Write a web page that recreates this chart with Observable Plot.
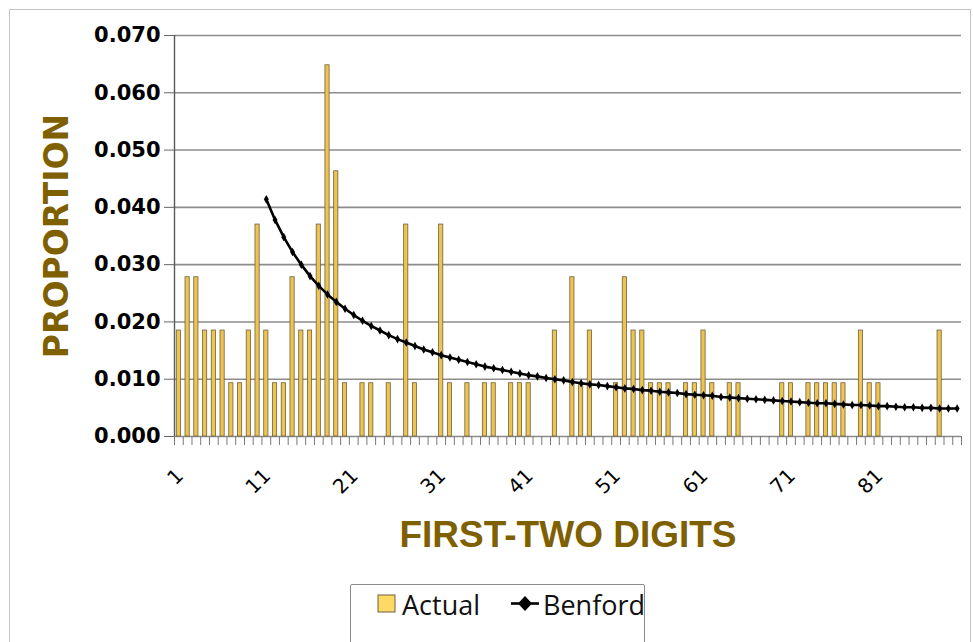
<!DOCTYPE html>
<html><head><meta charset="utf-8">
<script src="https://cdn.jsdelivr.net/npm/d3@7"></script>
<script src="https://cdn.jsdelivr.net/npm/@observablehq/plot@0.6"></script>
<style>
body{margin:0;background:#fff;width:973px;height:642px;overflow:hidden;position:relative;}
#frame{position:absolute;left:9px;top:9px;width:962px;height:660px;border:1px solid #c4c4c4;box-sizing:border-box;}
#chart{position:absolute;left:0;top:0;}
#legend{position:absolute;left:350px;top:584px;width:295px;height:80px;border:1.5px solid #8a8a8a;border-radius:2px;box-sizing:border-box;background:#fff;}
</style></head><body>
<div id="frame"></div>
<div id="chart"></div>
<div id="legend"></div>
<script>
const categories = [1,2,3,4,5,6,7,8,9,10,11,12,13,14,15,16,17,18,19,20,21,22,23,24,25,26,27,28,29,30,
  31,32,33,34,35,36,37,38,39,40,41,42,43,44,45,46,47,48,49,50,51,52,53,54,55,56,57,58,59,60,
  61,62,63,64,65,66,67,68,69,70,71,72,73,74,75,76,77,78,79,80,81,82,83,84,85,86,87,88,89,90];
const actual = [
  0.0185,0.0278,0.0278,0.0185,0.0185,0.0185,0.0093,0.0093,0.0185,0.0370,
  0.0185,0.0093,0.0093,0.0278,0.0185,0.0185,0.0370,0.0648,0.0463,0.0093,
  0,0.0093,0.0093,0,0.0093,0,0.0370,0.0093,0,0,
  0.0370,0.0093,0,0.0093,0,0.0093,0.0093,0,0.0093,0.0093,
  0.0093,0,0,0.0185,0,0.0278,0.0093,0.0185,0,0,
  0.0093,0.0278,0.0185,0.0185,0.0093,0.0093,0.0093,0,0.0093,0.0093,
  0.0185,0.0093,0,0.0093,0.0093,0,0,0,0,0.0093,
  0.0093,0,0.0093,0.0093,0.0093,0.0093,0.0093,0,0.0185,0.0093,
  0.0093,0,0,0,0,0,0,0.0185,0,0];
const benfordCategories = [11,12,13,14,15,16,17,18,19,20,21,22,23,24,25,26,27,28,29,30,
  31,32,33,34,35,36,37,38,39,40,41,42,43,44,45,46,47,48,49,50,51,52,53,54,55,56,57,58,59,60,
  61,62,63,64,65,66,67,68,69,70,71,72,73,74,75,76,77,78,79,80,81,82,83,84,85,86,87,88,89,90];
const benford = [
  0.0414,0.0378,0.0348,0.0322,0.0300,0.0280,0.0263,0.0248,0.0235,0.0223,
  0.0212,0.0202,0.0193,0.0185,0.0177,0.0170,0.0164,0.0158,0.0152,0.0147,
  0.0142,0.0138,0.0134,0.0130,0.0126,0.0122,0.0119,0.0116,0.0113,0.0110,
  0.0107,0.0105,0.0102,0.0100,0.0098,0.0095,0.0093,0.0091,0.0090,0.0088,
  0.0086,0.0084,0.0083,0.0081,0.0080,0.0078,0.0077,0.0076,0.0074,0.0073,
  0.0072,0.0071,0.0069,0.0068,0.0067,0.0066,0.0065,0.0064,0.0063,0.0062,
  0.0061,0.0060,0.0059,0.0058,0.0058,0.0057,0.0056,0.0055,0.0055,0.0054,
  0.0053,0.0053,0.0052,0.0051,0.0051,0.0050,0.0050,0.0049,0.0049,0.0049];
const yTicks = [0,0.01,0.02,0.03,0.04,0.05,0.06,0.07];
const xTickLabels = [1,11,21,31,41,51,61,71,81];
const yTitle = "PROPORTION";
const xTitle = "FIRST-TWO DIGITS";
const seriesNames = ["Actual","Benford"];

const bars = categories.map((c,i)=>({cat:c, v:actual[i]}));
const line = benfordCategories.map((c,i)=>({cat:c, v:benford[i]}));
const boundaries = d3.range(0.5, categories.length + 1, 1);

const chart = Plot.plot({
  width: 973, height: 580,
  marginLeft: 174, marginRight: 12, marginTop: 35, marginBottom: 144,
  x: {type: "linear", domain: [0.5, categories.length + 0.5]},
  y: {domain: [0, 0.07]},
  marks: [
    Plot.gridY(yTicks, {stroke: "#8c8c8c", strokeOpacity: 1, strokeWidth: 1.6}),
    Plot.rectY(bars, {x1: d => d.cat - 0.24, x2: d => d.cat + 0.24, y: "v",
      fill: "#EEC451", stroke: "#6e6140", strokeWidth: 0.8}),
    Plot.ruleX([0.5], {stroke: "#5a5a5a", strokeWidth: 1.4}),
    Plot.axisY(yTicks, {anchor: "left", tickFormat: d3.format(".3f"), tickSize: 10, tickPadding: 4,
      fontSize: 21, fontWeight: "bold", fontFamily: "DejaVu Sans", stroke: "#666", fill: "#000", label: null}),
    Plot.axisX(boundaries, {anchor: "bottom", tickSize: 9, tickFormat: () => "", stroke: "#777", label: null}),
    Plot.text(xTickLabels, {x: d => d, y: 0, text: d => String(d), rotate: -45, textAnchor: "end",
      lineAnchor: "middle", dx: 1, dy: 36, fontSize: 20, fontFamily: "DejaVu Sans", fill: "#000"}),
    Plot.line(line, {x: "cat", y: "v", stroke: "#000", strokeWidth: 2.6}),
    Plot.dot(line, {x: "cat", y: "v", symbol: "diamond", r: 2.6, fill: "#000"}),
    Plot.text([yTitle], {frameAnchor: "left", dx: -117, rotate: -90, textAnchor: "middle",
      lineAnchor: "middle", fontSize: 33, fontWeight: "bold", fontFamily: "DejaVu Sans", fill: "#7F6000"}),
    Plot.text([xTitle], {frameAnchor: "bottom", dy: 99, textAnchor: "middle", lineAnchor: "middle",
      fontSize: 37, fontWeight: "bold", fontFamily: "Liberation Sans", fill: "#7F6000"})
  ]
});
document.getElementById("chart").appendChild(chart);

const leg = document.getElementById("legend");
leg.innerHTML = `<svg width="295" height="60" style="position:absolute;left:-1.5px;top:-1.5px">
  <rect x="28" y="11" width="17" height="17" fill="#FFD966" stroke="#6e6140" stroke-width="1"/>
  <text x="52" y="31" font-family="Open Sans" font-size="27" fill="#111">${seriesNames[0]}</text>
  <line x1="161" y1="19.5" x2="189" y2="19.5" stroke="#000" stroke-width="2.6"/>
  <path d="M175 12 L182 19.5 L175 27 L168 19.5 Z" fill="#000"/>
  <text x="193" y="31" font-family="Open Sans" font-size="27" fill="#111">${seriesNames[1]}</text>
</svg>`;
</script>
</body></html>
